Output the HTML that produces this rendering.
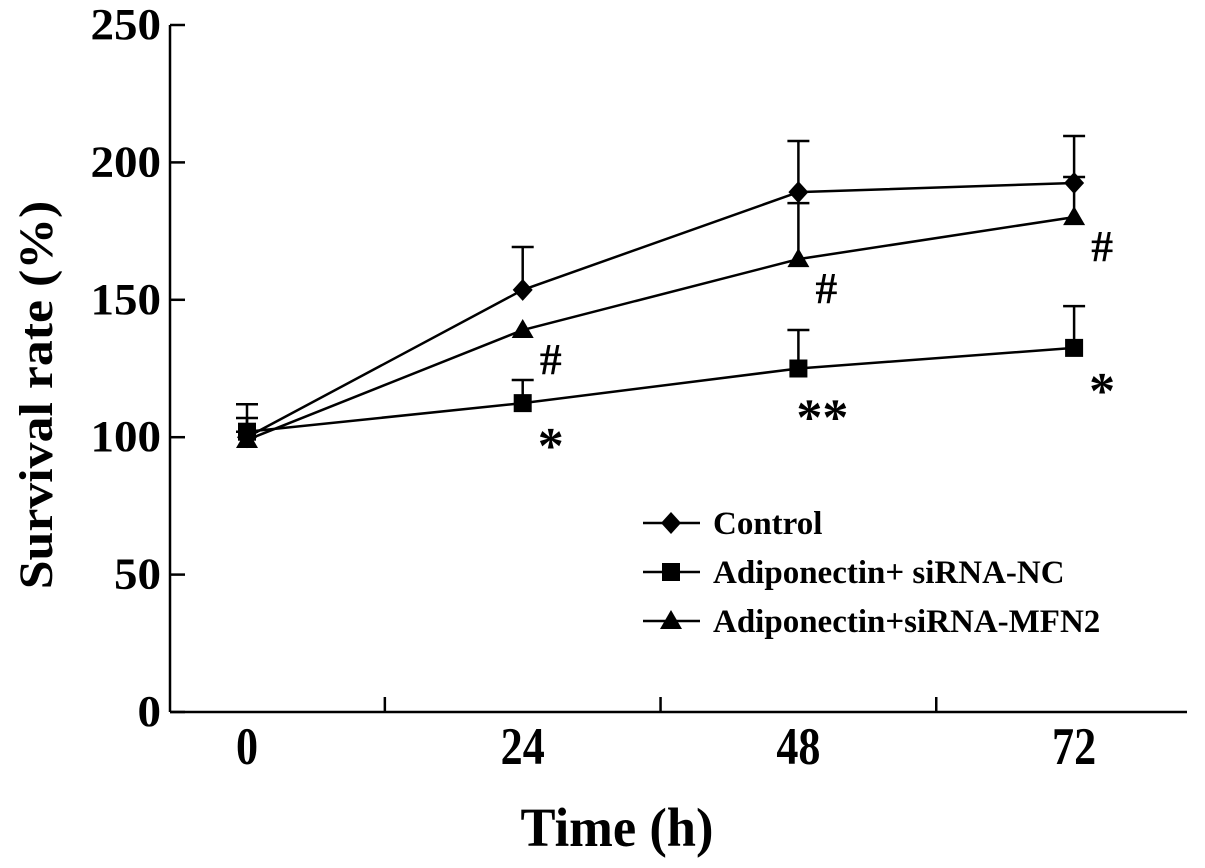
<!DOCTYPE html>
<html><head><meta charset="utf-8"><style>
html,body{margin:0;padding:0;background:#fff;}
svg{display:block;font-family:"Liberation Serif",serif;font-weight:bold;}
</style></head><body>
<svg width="1205" height="868" viewBox="0 0 1205 868">
<g id="axes"></g>
<g id="marks"></g>
<g id="legend"></g>
<text x="0" y="0" font-size="48" text-anchor="middle" transform="translate(52 395) rotate(-90) scale(1.08 1)">Survival rate (%)</text>
<text x="0" y="0" font-size="50" text-anchor="middle" transform="translate(617 846) scale(1.05 1.1)">Time (h)</text>
</svg>
<script>
const categories = ["0","24","48","72"];
const yTicks = [0,50,100,150,200,250];
const controlVals = [100,153.6,189.2,192.5];
const controlErr = [12,15.6,18.6,17.1];
const ncVals = [102,112.4,125,132.5];
const ncErr = [5,8.4,14,15.2];
const mfnVals = [99,139,164.8,180.1];
const mfnErr = [3,0,20.4,14.6];
const annotations = [["#",1,139],["*",1,112.4],["#",2,164.8],["**",2,125],["#",3,180.1],["*",3,132.5]];
const seriesNames = ["Control","Adiponectin+ siRNA-NC","Adiponectin+siRNA-MFN2"];

const NS="http://www.w3.org/2000/svg";
const X0=170,X1=1187,Y0=712,Y1=25;
const yS=v=>Y0-(v/250)*(Y0-Y1);
const xS=i=>247+i*275.7;
function mk(p,tag,attrs){const e=document.createElementNS(NS,tag);for(const k in attrs)e.setAttribute(k,attrs[k]);p.appendChild(e);return e;}
const ax=document.getElementById('axes');
let l=mk(ax,'line',{x1:X0,y1:Y1,x2:X0,y2:Y0,stroke:'#000','stroke-width':2.5});


l=mk(ax,'line',{x1:X0,y1:Y0,x2:X1,y2:Y0,stroke:'#000','stroke-width':2.5});


yTicks.forEach(t=>{
  mk(ax,'line',{x1:X0,y1:yS(t),x2:X0+15,y2:yS(t),stroke:'#000','stroke-width':2.5});
  const tx=mk(ax,'text',{x:0,y:0,'font-size':42,'text-anchor':'end',transform:`translate(161 ${yS(t)+14}) scale(1.12 1.05)`});
  tx.textContent=t;
  
  
});
[0.5,1.5,2.5,3.5].forEach(h=>{mk(ax,'line',{x1:xS(h),y1:Y0,x2:xS(h),y2:Y0-15,stroke:'#000','stroke-width':2.5});});
categories.forEach((c,i)=>{
  const tx=mk(ax,'text',{x:0,y:0,'font-size':42,'text-anchor':'middle',transform:`translate(${xS(i)} 764) scale(1.05 1.25)`});
  tx.textContent=c;
  
  
});
const mg=document.getElementById('marks');
function marker(g,type,x,y){
  if(type==0)return mk(g,'polygon',{points:`${x},${y-11} ${x+10},${y} ${x},${y+11} ${x-10},${y}`,fill:'#000'});
  if(type==1)return mk(g,'rect',{x:x-9,y:y-9,width:18,height:18,fill:'#000'});
  return mk(g,'polygon',{points:`${x},${y-11} ${x+11},${y+8} ${x-11},${y+8}`,fill:'#000'});
}
[[controlVals,controlErr],[ncVals,ncErr],[mfnVals,mfnErr]].forEach((s,k)=>{
  const g=mk(mg,'g',{});
  
  
  s[0].forEach((v,i)=>{if(s[1][i]>0){
    mk(g,'line',{x1:xS(i),y1:yS(v),x2:xS(i),y2:yS(v+s[1][i]),stroke:'#000','stroke-width':2.5});
    mk(g,'line',{x1:xS(i)-11,y1:yS(v+s[1][i]),x2:xS(i)+11,y2:yS(v+s[1][i]),stroke:'#000','stroke-width':2.5});}});
  mk(g,'polyline',{points:s[0].map((v,i)=>xS(i)+','+yS(v)).join(' '),fill:'none',stroke:'#000','stroke-width':2.5});
  s[0].forEach((v,i)=>{const m=marker(g,k,xS(i),yS(v));
    
    });
});
annotations.forEach(a=>{
  const dy=a[0]=='#'?44:(a[0]=='**'?66:60);
  const tx=mk(mg,'text',{x:xS(a[1])+(a[0]=='**'?24:28),y:yS(a[2])+dy,'font-size':a[0]=='#'?44:52,'text-anchor':'middle'});
  tx.textContent=a[0];
  
  
});
const lg=document.getElementById('legend');
seriesNames.forEach((n,k)=>{
  const y=523+k*49;
  const g=mk(lg,'g',{});
  
  
  mk(g,'line',{x1:643,y1:y,x2:700,y2:y,stroke:'#000','stroke-width':2.5});
  marker(g,k,671,y);
  const tx=mk(g,'text',{x:713,y:y+11,'font-size':33});
  tx.textContent=n;
});
</script>
</body></html>
